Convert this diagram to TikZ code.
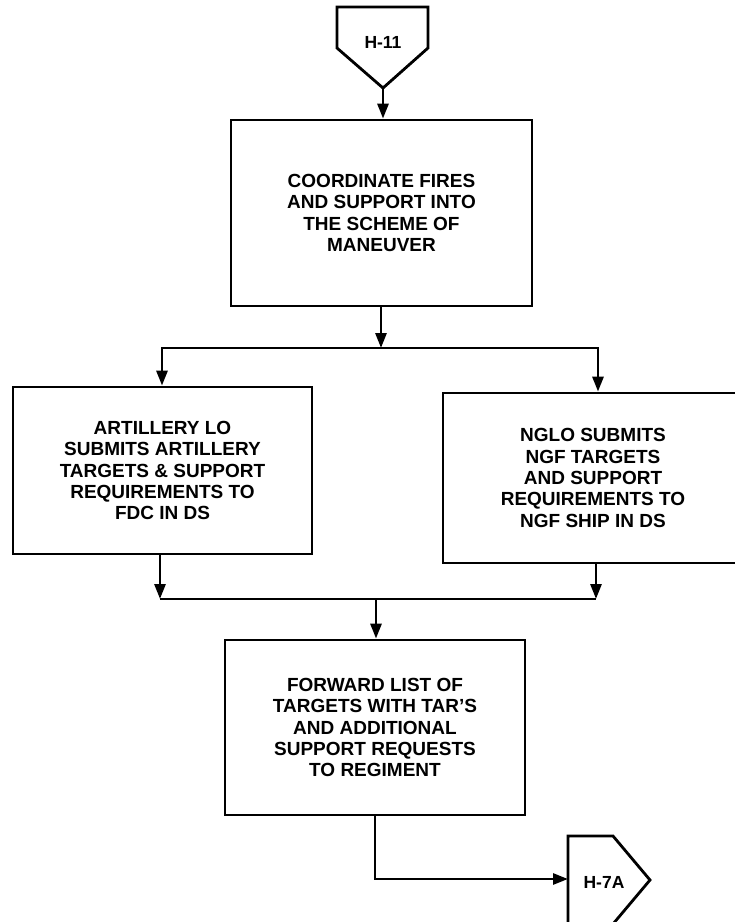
\documentclass[tikz,border=0pt]{standalone}
\usepackage{fontspec}
\setmainfont{Liberation Sans}
\usetikzlibrary{arrows.meta}
\begin{document}
\begin{tikzpicture}[x=1pt,y=-1pt,
  line width=2.8pt,
  proc/.style={draw, rectangle, line width=2.8pt, align=center, inner sep=0pt,
    font=\fontsize{19}{21.3}\selectfont\bfseries},
  tag/.style={font=\fontsize{17.5}{19}\selectfont\bfseries, inner sep=0pt},
  flow/.style={-{Triangle[length=15pt,width=11pt]}, line width=2.8pt, line join=miter},
  link/.style={line width=2.8pt, line join=miter},
  ]
\useasboundingbox (0,0) rectangle (735,922);

% entry connector
\draw[link] (337,7) -- (428,7) -- (428,48) -- (383,88) -- (337,48) -- cycle;
\node[tag] (h11) at (383,42) {H-11};
\coordinate (h11tip) at (383,88);

% process boxes
\node[proc, minimum width=301pt, minimum height=186pt] (coord) at (381.5,213)
  {COORDINATE FIRES\\AND SUPPORT INTO\\THE SCHEME OF\\MANEUVER};
\node[proc, minimum width=299pt, minimum height=167pt] (arty) at (162.5,470.5)
  {ARTILLERY LO\\SUBMITS ARTILLERY\\TARGETS \& SUPPORT\\REQUIREMENTS TO\\FDC IN DS};
\node[proc, minimum width=300pt, minimum height=170pt] (nglo) at (593,478)
  {NGLO SUBMITS\\NGF TARGETS\\AND SUPPORT\\REQUIREMENTS TO\\NGF SHIP IN DS};
\node[proc, minimum width=300pt, minimum height=175pt] (fwd) at (375,727.5)
  {FORWARD LIST OF\\TARGETS WITH TAR'S\\AND ADDITIONAL\\SUPPORT REQUESTS\\TO REGIMENT};

% exit connector
\draw[link] (568,836) -- (613,836) -- (650,880) -- (613,924) -- (568,924) -- cycle;
\node[tag] (h7a) at (604,882) {H-7A};
\coordinate (h7ain) at (568,879);

% split and merge points
\coordinate (split) at (381,348);
\coordinate (sl) at (162,348);
\coordinate (sr) at (598,348);
\coordinate (merge) at (376,599);
\coordinate (ml) at (160,599);
\coordinate (mr) at (596,599);

% connectors
\draw[flow] (h11tip) -- (h11tip |- coord.north);
\draw[flow] (split |- coord.south) -- (split);
\draw[flow] (split) -- (sl) -- (sl |- arty.north);
\draw[flow] (split) -- (sr) -- (sr |- nglo.north);
\draw[flow] (ml |- arty.south) -- (ml);
\draw[flow] (mr |- nglo.south) -- (mr);
\draw[link] (ml) -- (mr);
\draw[flow] (merge) -- (merge |- fwd.north);
\draw[flow] (fwd.south) -- (fwd.south |- h7ain) -- (h7ain);
\end{tikzpicture}
\end{document}
